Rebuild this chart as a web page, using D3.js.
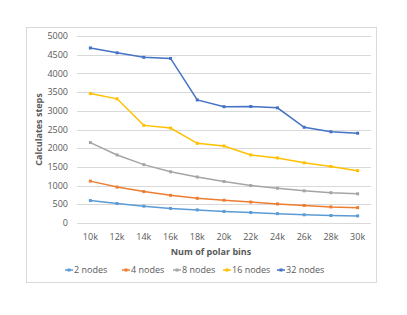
<!DOCTYPE html>
<html>
<head>
<meta charset="utf-8">
<script src="https://cdn.jsdelivr.net/npm/d3@7"></script>
<style>
  body { margin: 0; background: #fff; }
  svg { font-family: "Open Sans", "Liberation Sans", sans-serif; }
</style>
</head>
<body>
<svg id="chart" width="407" height="315"></svg>
<script>
const categories = ["10k", "12k", "14k", "16k", "18k", "20k", "22k", "24k", "26k", "28k", "30k"];
const seriesNames = ["2 nodes", "4 nodes", "8 nodes", "16 nodes", "32 nodes"];
const nodes2 = [600, 520, 450, 390, 350, 310, 280, 250, 220, 200, 190];
const nodes4 = [1120, 960, 840, 740, 660, 610, 560, 510, 470, 430, 410];
const nodes8 = [2150, 1820, 1560, 1370, 1230, 1110, 1000, 930, 860, 810, 780];
const nodes16 = [3460, 3320, 2610, 2540, 2130, 2060, 1820, 1740, 1610, 1510, 1400];
const nodes32 = [4680, 4550, 4430, 4400, 3290, 3110, 3115, 3080, 2560, 2440, 2400];
const yTicks = [0, 500, 1000, 1500, 2000, 2500, 3000, 3500, 4000, 4500, 5000];
const colors = ["#5B9BD5", "#ED7D31", "#A5A5A5", "#FFC000", "#4472C4"];

const series = [nodes2, nodes4, nodes8, nodes16, nodes32];

const svg = d3.select("#chart");

// chart frame
svg.append("rect")
  .attr("x", 26.5).attr("y", 27.5)
  .attr("width", 350).attr("height", 255)
  .attr("fill", "#fff").attr("stroke", "#d9d9d9");

const x = d3.scaleBand().domain(categories).range([77, 371]);
const y = d3.scaleLinear().domain([0, 5000]).range([223, 36]);

// gridlines
svg.append("g")
  .selectAll("line")
  .data(yTicks)
  .join("line")
  .attr("x1", 77).attr("x2", 371)
  .attr("y1", d => Math.round(y(d)) + 0.5)
  .attr("y2", d => Math.round(y(d)) + 0.5)
  .attr("stroke", "#d9d9d9");

// y tick labels
svg.append("g")
  .selectAll("text")
  .data(yTicks)
  .join("text")
  .attr("x", 68)
  .attr("y", d => y(d))
  .attr("dy", "0.35em")
  .attr("text-anchor", "end")
  .attr("font-size", 9)
  .attr("fill", "#595959")
  .text(d => d);

// x tick labels
svg.append("g")
  .selectAll("text")
  .data(categories)
  .join("text")
  .attr("x", d => x(d) + x.bandwidth() / 2)
  .attr("y", 237)
  .attr("dy", "0.35em")
  .attr("text-anchor", "middle")
  .attr("font-size", 9)
  .attr("fill", "#595959")
  .text(d => d);

// axis titles
svg.append("text")
  .attr("x", 211).attr("y", 252)
  .attr("dy", "0.35em")
  .attr("text-anchor", "middle")
  .attr("font-size", 9)
  .attr("font-weight", "bold")
  .attr("fill", "#595959")
  .text("Num of polar bins");

svg.append("text")
  .attr("transform", `translate(39,${y(2500)}) rotate(-90)`)
  .attr("dy", "0.35em")
  .attr("text-anchor", "middle")
  .attr("font-size", 9)
  .attr("font-weight", "bold")
  .attr("fill", "#595959")
  .text("Calculates steps");

// lines
const line = d3.line()
  .x((d, i) => x(categories[i]) + x.bandwidth() / 2)
  .y(d => y(d));

series.forEach((vals, s) => {
  const g = svg.append("g");
  g.append("path")
    .datum(vals)
    .attr("d", line)
    .attr("fill", "none")
    .attr("stroke", colors[s])
    .attr("stroke-width", 1.5);
  g.selectAll("rect")
    .data(vals)
    .join("rect")
    .attr("x", (d, i) => x(categories[i]) + x.bandwidth() / 2 - 1.5)
    .attr("y", d => y(d) - 1.5)
    .attr("width", 3).attr("height", 3)
    .attr("fill", colors[s]);
});

// legend
const legendX = [65, 122, 173, 223, 277];
const legend = svg.append("g");
seriesNames.forEach((name, i) => {
  const lx = legendX[i];
  legend.append("line")
    .attr("x1", lx).attr("x2", lx + 8)
    .attr("y1", 270).attr("y2", 270)
    .attr("stroke", colors[i]).attr("stroke-width", 1.5);
  legend.append("rect")
    .attr("x", lx + 2.5).attr("y", 268.5)
    .attr("width", 3).attr("height", 3)
    .attr("fill", colors[i]);
  legend.append("text")
    .attr("x", lx + 9).attr("y", 270)
    .attr("dy", "0.35em")
    .attr("font-size", 9)
    .attr("fill", "#595959")
    .text(name);
});
</script>
</body>
</html>
